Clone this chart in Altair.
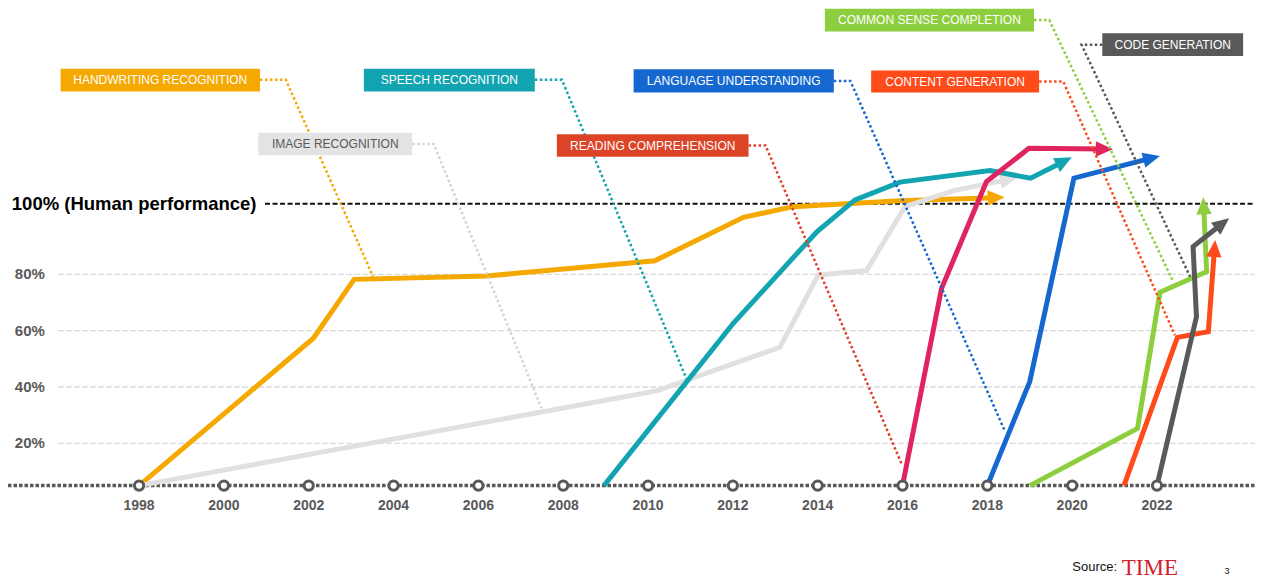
import math
import altair as alt
import pandas as pd

# ---------------- data ----------------
tick_years = [1998, 2000, 2002, 2004, 2006, 2008, 2010, 2012, 2014, 2016, 2018, 2020, 2022]
grid_values = [20, 40, 60, 80]
grid_labels = ["20%", "40%", "60%", "80%"]
baseline_value = 5.0
human_value = 105.0

names = ["HANDWRITING RECOGNITION", "IMAGE RECOGNITION", "SPEECH RECOGNITION",
         "READING COMPREHENSION", "LANGUAGE UNDERSTANDING", "COMMON SENSE COMPLETION",
         "CONTENT GENERATION", "CODE GENERATION"]

handwriting_x = [1998.0, 2002.11, 2003.07, 2006.2, 2010.16, 2012.25, 2013.42, 2015.94, 2018.41]
handwriting_y = [5, 57.3, 78.2, 79.4, 84.8, 100.2, 104.0, 106.1, 107.3]
image_x = [1998.0, 2010.2, 2013.11, 2014.01, 2015.15, 2016.06, 2017.2, 2018.70]
image_y = [5, 38.6, 54.1, 79.7, 81.3, 104.0, 109.7, 114.2]
speech_x = [2008.96, 2012.01, 2013.98, 2014.88, 2015.94, 2018.06, 2019.02, 2019.99]
speech_y = [5, 62.6, 95.1, 106.4, 112.7, 116.8, 114.1, 121.5]
reading_x = [2016.0, 2016.92, 2017.98, 2018.98, 2020.96]
reading_y = [5, 75.0, 112.9, 124.7, 124.4]
language_x = [2018.0, 2019.0, 2020.04, 2022.07]
language_y = [5, 41.9, 114.1, 122.0]
common_x = [2019.0, 2021.54, 2022.07, 2023.17, 2023.09]
common_y = [5, 25.3, 73.6, 80.9, 107.3]
content_x = [2021.22, 2022.48, 2023.21, 2023.37]
content_y = [5, 57.6, 59.6, 92.2]
code_x = [2022.0, 2022.93, 2022.85, 2023.70]
code_y = [5, 64.9, 89.8, 99.9]

series_x = [handwriting_x, image_x, speech_x, reading_x, language_x, common_x, content_x, code_x]
series_y = [handwriting_y, image_y, speech_y, reading_y, language_y, common_y, content_y, code_y]

line_colors = ["#F5A800", "#E0E0E0", "#12A4B1", "#E0245E", "#1468D0", "#8DCE3E", "#FF4A1A", "#595959"]
box_colors = ["#F5A800", "#E3E3E3", "#12A4B1", "#DD4427", "#1468D0", "#8DCE3E", "#FF4A1A", "#595959"]
leader_colors = ["#F5A800", "#D4D4D4", "#12A4B1", "#E0402A", "#1468D0", "#8DCE3E", "#FF4A1A", "#595959"]
text_colors = ["white", "#595959", "white", "white", "white", "white", "white", "white"]

# label boxes: x0, x1 (year units), y0, y1 (percent units)
box_x0 = [1996.15, 2000.81, 2003.30, 2007.85, 2009.66, 2014.17, 2015.26, 2020.71]
box_x1 = [2000.85, 2004.44, 2007.33, 2012.37, 2014.38, 2019.10, 2019.22, 2024.03]
box_y0 = [144.9, 122.2, 144.9, 121.7, 144.5, 166.2, 144.5, 157.5]
box_y1 = [152.9, 130.2, 152.9, 129.7, 152.8, 174.2, 152.3, 165.5]
# leader lines: box edge -> elbow -> point on curve
leader_x = [[2000.85, 2001.46, 2003.52], [2004.44, 2004.95, 2007.49], [2007.33, 2007.97, 2010.90],
            [2012.37, 2012.77, 2015.99], [2014.38, 2014.77, 2018.42], [2019.10, 2019.46, 2022.38],
            [2019.22, 2019.79, 2022.42], [2020.71, 2020.22, 2022.78]]
leader_y = [[149.0, 149.0, 79.1], [126.2, 126.2, 32.4], [149.0, 149.0, 43.1],
            [125.7, 125.7, 12.3], [148.6, 148.6, 24.1], [170.2, 170.2, 77.4],
            [148.4, 148.4, 58.4], [161.5, 161.5, 79.1]]

# ---------------- scales ----------------
X_MIN, X_MAX = 1994.91, 2024.31
Y_MIN, Y_MAX = -28.5, 174.5
W, H = 1247, 572
PX_YEAR = W / (X_MAX - X_MIN)
PX_PCT = H / (Y_MAX - Y_MIN)
xs = alt.Scale(domain=[X_MIN, X_MAX], nice=False, zero=False)
ys = alt.Scale(domain=[Y_MIN, Y_MAX], nice=False, zero=False)
FONT = "Liberation Sans"


def X(f="x"):
    return alt.X(f"{f}:Q", scale=xs, axis=None)


def Y(f="y"):
    return alt.Y(f"{f}:Q", scale=ys, axis=None)


layers = []

# gridlines
grid_df = pd.DataFrame({"y": grid_values, "x": [1996.09] * 4, "x2": [X_MAX] * 4})
layers.append(alt.Chart(grid_df).mark_rule(color="#DCDCDC", strokeWidth=1.3, strokeDash=[6, 2]).encode(
    x=X(), x2="x2:Q", y=Y()))

# human performance line
hum_df = pd.DataFrame({"x": [2000.97], "x2": [X_MAX], "y": [human_value]})
layers.append(alt.Chart(hum_df).mark_rule(color="#111111", strokeWidth=2, strokeDash=[5, 2.5]).encode(
    x=X(), x2="x2:Q", y=Y()))

# baseline
base_df = pd.DataFrame({"x": [X_MIN], "x2": [X_MAX], "y": [baseline_value]})
layers.append(alt.Chart(base_df).mark_rule(color="#595959", strokeWidth=3.5, strokeDash=[3.5, 2]).encode(
    x=X(), x2="x2:Q", y=Y()))

ARROW = "M0,-1L0.85,0.9L-0.85,0.9Z"
for k in range(len(names)):
    sx, sy = series_x[k], series_y[k]
    x1, y1, x2, y2 = sx[-2], sy[-2], sx[-1], sy[-1]
    dx = (x2 - x1) * PX_YEAR
    dy = -(y2 - y1) * PX_PCT
    L = math.hypot(dx, dy)
    ux, uy = dx / L, dy / L
    back = 9.0
    cx = x2 - back * ux / PX_YEAR
    cy = y2 + back * uy / PX_PCT
    ang = math.degrees(math.atan2(ux, -uy)) % 360
    ldf = pd.DataFrame({"x": sx[:-1] + [cx], "y": sy[:-1] + [cy], "i": list(range(len(sx)))})
    layers.append(alt.Chart(ldf).mark_line(color=line_colors[k], strokeWidth=5, strokeJoin="miter",
                                            strokeCap="butt").encode(x=X(), y=Y(), order="i:Q"))
    adf = pd.DataFrame({"x": [cx], "y": [cy], "a": [ang]})
    layers.append(alt.Chart(adf).mark_point(shape=ARROW, filled=True, color=line_colors[k], size=324,
                                             opacity=1).encode(
        x=X(), y=Y(), angle=alt.Angle("a:Q", scale=None)))

# leaders
lrows = []
for k in range(len(names)):
    for j, (lx, ly) in enumerate(zip(leader_x[k], leader_y[k])):
        lrows.append({"name": names[k], "x": lx, "y": ly, "i": j, "c": leader_colors[k]})
lead_df = pd.DataFrame(lrows)
layers.append(alt.Chart(lead_df).mark_line(strokeWidth=2.5, strokeDash=[2.5, 2.5], strokeCap="butt").encode(
    x=X(), y=Y(), detail="name:N", order="i:Q", color=alt.Color("c:N", scale=None)))

# baseline circles
circ_df = pd.DataFrame({"x": tick_years, "y": [baseline_value] * len(tick_years)})
layers.append(alt.Chart(circ_df).mark_point(shape="circle", fill="white", stroke="#595959", strokeWidth=3,
                                            size=85, opacity=1, fillOpacity=1).encode(x=X(), y=Y()))

# year labels
yl_df = pd.DataFrame({"x": tick_years, "y": [-2.3] * len(tick_years), "t": [str(v) for v in tick_years]})
layers.append(alt.Chart(yl_df).mark_text(font=FONT, fontSize=14, fontWeight="bold", color="#595959",
                                         baseline="middle", align="center").encode(x=X(), y=Y(), text="t:N"))

# y labels
gl_df = pd.DataFrame({"x": [1995.78] * 4, "y": grid_values, "t": grid_labels})
layers.append(alt.Chart(gl_df).mark_text(font=FONT, fontSize=15, fontWeight="bold", color="#595959",
                                         baseline="middle", align="right").encode(x=X(), y=Y(), text="t:N"))

# human label
hl_df = pd.DataFrame({"x": [1995.0], "y": [human_value], "t": ["100% (Human performance)"]})
layers.append(alt.Chart(hl_df).mark_text(font=FONT, fontSize=18.5, fontWeight="bold", color="#000000",
                                         baseline="middle", align="left").encode(x=X(), y=Y(), text="t:N"))

# label boxes
box_df = pd.DataFrame({"x": box_x0, "x2": box_x1, "y": box_y0, "y2": box_y1, "c": box_colors,
                       "tx": [(a + b) / 2 for a, b in zip(box_x0, box_x1)],
                       "ty": [(a + b) / 2 for a, b in zip(box_y0, box_y1)],
                       "t": names, "tc": text_colors})
layers.append(alt.Chart(box_df).mark_rect().encode(x=X(), x2="x2:Q", y=Y(), y2="y2:Q",
                                                   color=alt.Color("c:N", scale=None)))
layers.append(alt.Chart(box_df).mark_text(font=FONT, fontSize=12, baseline="middle", align="center").encode(
    x=X("tx"), y=Y("ty"), text="t:N", color=alt.Color("tc:N", scale=None)))

# source
src_df = pd.DataFrame({"x": [2021.06], "y": [-23.9], "t": ["Source:"]})
layers.append(alt.Chart(src_df).mark_text(font=FONT, fontSize=13, color="#111111", align="right",
                                          baseline="middle").encode(x=X(), y=Y(), text="t:N"))
time_df = pd.DataFrame({"x": [2021.17], "y": [-24.2], "t": ["TIME"]})
layers.append(alt.Chart(time_df).mark_text(font="Liberation Serif", fontSize=23, color="#D2202F", align="left",
                                           baseline="middle").encode(x=X(), y=Y(), text="t:N"))
pg_df = pd.DataFrame({"x": [2023.65], "y": [-25.3], "t": ["3"]})
layers.append(alt.Chart(pg_df).mark_text(font=FONT, fontSize=9, color="#111111", align="center",
                                         baseline="middle").encode(x=X(), y=Y(), text="t:N"))

chart = alt.layer(*layers).properties(
    width=W, height=H, padding=0, autosize=alt.AutoSizeParams(type="none"), background="white"
).configure_view(stroke=None)

chart.save("out.html", embed_options={"renderer": "svg", "actions": False})
